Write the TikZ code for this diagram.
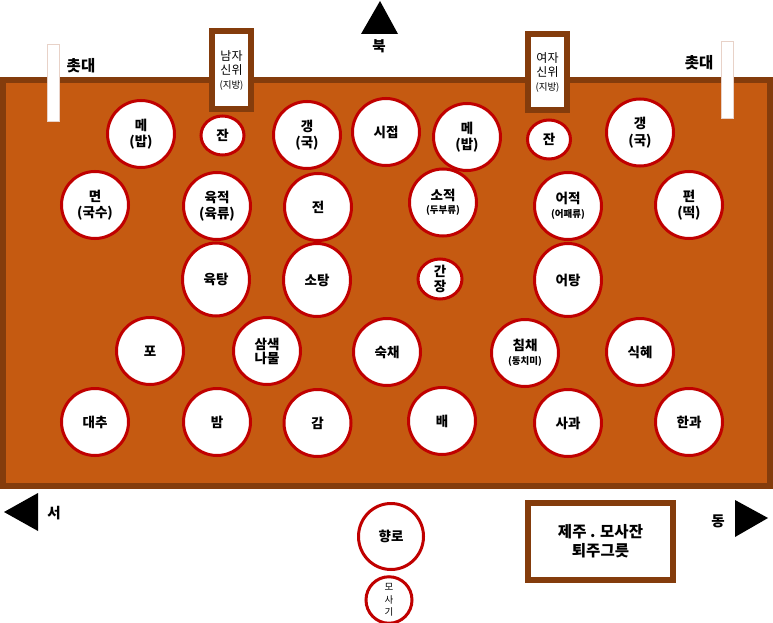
\documentclass[tikz,border=0pt]{standalone}
\usepackage{fontspec}
\setmainfont{Noto Sans CJK KR}
\usetikzlibrary{shapes.geometric}
\definecolor{boardfill}{HTML}{C55A11}
\definecolor{boardbrown}{HTML}{843C0C}
\definecolor{dishred}{HTML}{C00000}
\definecolor{candleline}{HTML}{E8D2C8}
\newcommand\subtxt[1]{{\fontsize{9.5}{11}\selectfont #1}}

\begin{document}
\begin{tikzpicture}[x=1pt,y=-1pt,
  dish/.style={ellipse,draw=dishred,line width=3pt,fill=white,inner sep=0pt,align=center,
    minimum width=67pt,minimum height=67pt,font=\bfseries\fontsize{13.5}{16.5}\selectfont},
  cup/.style={dish,minimum width=43pt,minimum height=39pt},
  tang/.style={dish,minimum height=73pt},
  tablet/.style={draw=boardbrown,line width=6pt,fill=white,inner sep=0pt,align=center,
    minimum width=39pt,minimum height=78pt,font=\fontsize{12}{14.5}\selectfont},
  candle/.style={draw=candleline,fill=white,inner sep=0pt,minimum width=12pt,minimum height=77pt},
  dir/.style={font=\bfseries\fontsize{14.5}{16}\selectfont}]
\useasboundingbox (0,0) rectangle (773,623);
\draw[boardbrown,line width=6pt,fill=boardfill] (3,80) rectangle (770,486);
\node[candle] (candleL) at (53,82.5) {};
\node[candle] (candleR) at (727.5,79.5) {};
\node[font=\bfseries\fontsize{15.5}{17}\selectfont] (candleLtxt) at (81,66) {촛대};
\node[font=\bfseries\fontsize{15.5}{17}\selectfont] (candleRtxt) at (699,63) {촛대};
\node[tablet] (manT) at (231.5,70) {남자\\신위\\[-1pt]\subtxt{(지방)}};
\node[tablet,minimum height=76pt] (womanT) at (547.5,72) {여자\\신위\\[-1pt]\subtxt{(지방)}};
\fill (380,1) -- (398,34) -- (361,34) -- cycle;
\node[dir] (north) at (379,46) {북};
% row 1
\node[dish] (meL) at (141,134) {메\\(밥)};
\node[cup] (janL) at (222.5,135.5) {잔};
\node[dish] (gaengL) at (307,135) {갱\\(국)};
\node[dish] (sijeop) at (386,132) {시접};
\node[dish] (meR) at (467,137) {메\\(밥)};
\node[cup] (janR) at (549,139.5) {잔};
\node[dish] (gaengR) at (640,132.5) {갱\\(국)};
% row 2
\node[dish] (myeon) at (95,205) {면\\(국수)};
\node[dish] (yukjeok) at (217,206) {육적\\(육류)};
\node[dish] (jeon) at (318,207) {전};
\node[dish] (sojeok) at (443,202.5) {소적\\[-3pt]\subtxt{(두부류)}};
\node[dish] (eojeok) at (568,206) {어적\\[-3pt]\subtxt{(어패류)}};
\node[dish] (pyeon) at (689,205) {편\\(떡)};
% row 3
\node[tang] (yuktang) at (216,279.5) {육탕};
\node[tang] (sotang) at (317,280) {소탕};
\node[cup,minimum width=44pt,minimum height=40pt,font=\bfseries\fontsize{13.5}{15}\selectfont] (ganjang) at (440,279) {간\\장};
\node[tang] (eotang) at (568,280) {어탕};
% row 4
\node[dish] (po) at (150,351) {포};
\node[dish] (namul) at (267,351) {삼색\\[-2.5pt]나물};
\node[dish] (sukchae) at (387,352) {숙채};
\node[dish] (chimchae) at (525,353) {침채\\[-3pt]\subtxt{(동치미)}};
\node[dish] (sikhye) at (640,352) {식혜};
% row 5
\node[dish] (daechu) at (95,422) {대추};
\node[dish] (bam) at (217,422) {밤};
\node[dish] (gam) at (317.5,423) {감};
\node[dish] (bae) at (442,421) {배};
\node[dish] (sagwa) at (568,423) {사과};
\node[dish] (hangwa) at (689,422) {한과};
% bottom
\fill (4,512) -- (38,493) -- (38,531) -- cycle;
\node[dir] (west) at (54,513) {서};
\fill (768,518) -- (735,500) -- (735,537) -- cycle;
\node[dir] (east) at (718,521) {동};
\node[dish,minimum width=65pt,minimum height=66pt] (hyangro) at (391,536.5) {향로};
\node[dish,minimum width=46pt,minimum height=42pt,font=\fontsize{9.5}{12.5}\selectfont] (mosagi) at (389,600) {모\\사\\기};
\node[draw=boardbrown,line width=6pt,fill=white,minimum width=145pt,minimum height=77pt,
  align=center,font=\bfseries\fontsize{15.5}{19}\selectfont] (jeju) at (600.5,541.5) {제주 . 모사잔\\퇴주그릇};
\end{tikzpicture}
\end{document}
